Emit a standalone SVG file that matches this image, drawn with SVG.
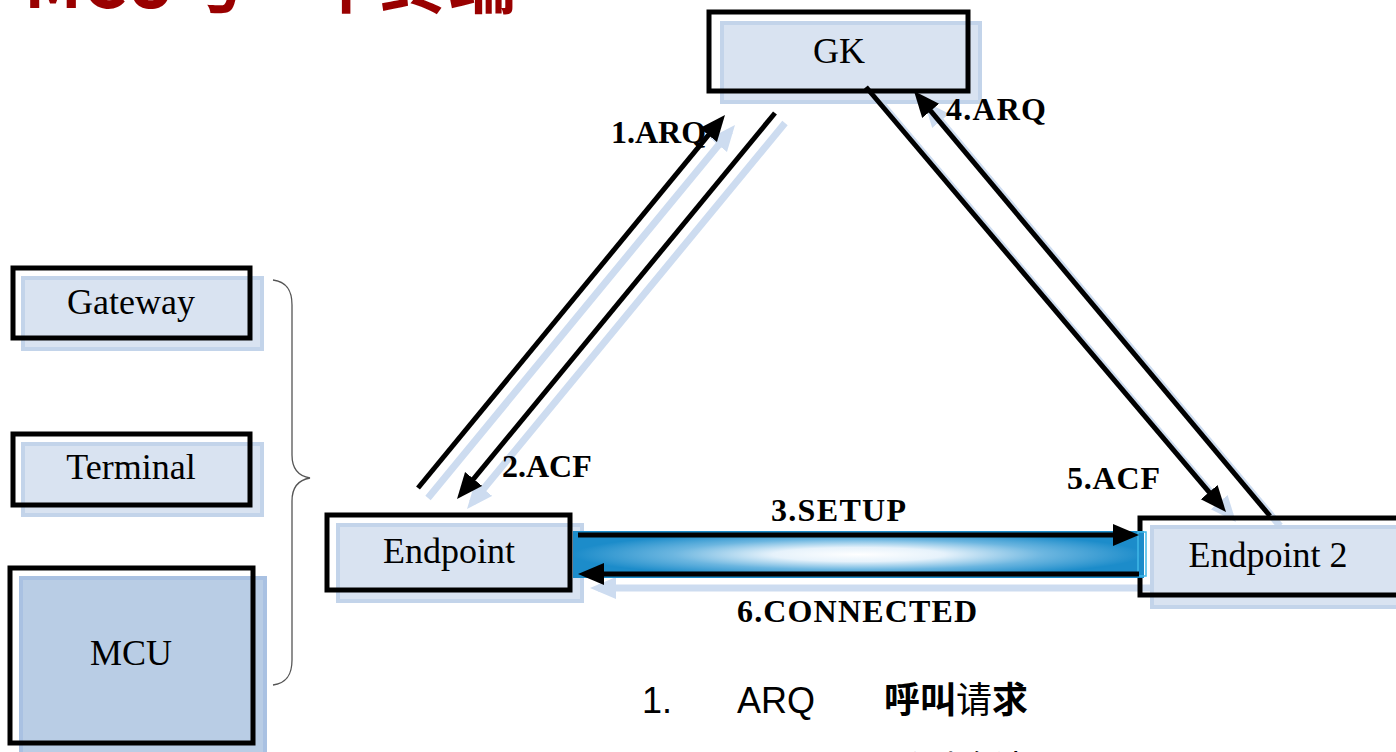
<svg xmlns="http://www.w3.org/2000/svg" width="1396" height="752" viewBox="0 0 1396 752">
<style>
.shade{fill:#d9e3f1;stroke:#c3d4ea;stroke-width:4}
.shade2{fill:#b9cde5;stroke:#a9c1e2;stroke-width:4}
.frame{fill:none;stroke:#000;stroke-width:5}
.lbl{font-family:"Liberation Serif","Times New Roman",serif;font-size:36px;fill:#000;text-anchor:middle}
.msg{font-family:"Liberation Serif","Times New Roman",serif;font-weight:bold;font-size:32px;fill:#000}
.ln{stroke:#000;stroke-width:5;fill:none}
.sh{stroke:#cddcf0;stroke-width:7;fill:none}
</style>
<defs>
<marker id="ah" markerUnits="userSpaceOnUse" markerWidth="30" markerHeight="24" refX="18" refY="11" orient="auto">
<path d="M0,0 L26,11 L0,22 z" fill="#000"/>
</marker>
<marker id="ahs" markerUnits="userSpaceOnUse" markerWidth="30" markerHeight="24" refX="18" refY="11" orient="auto">
<path d="M0,0 L26,11 L0,22 z" fill="#cddcf0"/>
</marker>
<radialGradient id="glow" cx="0.5" cy="0.5" r="0.5">
<stop offset="0" stop-color="#ffffff"/>
<stop offset="0.3" stop-color="#e6f2fb"/>
<stop offset="0.65" stop-color="#6cb6e0"/>
<stop offset="1" stop-color="#1c8cca"/>
</radialGradient>
</defs>

<g id="title">
<text x="24" y="8" font-family="'Noto Sans CJK SC',sans-serif" font-weight="bold" font-size="68" fill="#990000">MCU与一个终端</text>
</g>

<g id="connectors-shadow">
<line class="sh" x1="428" y1="498" x2="729.9" y2="131.2" marker-end="url(#ahs)"/>
<line class="sh" x1="785" y1="123" x2="472.1" y2="502.8" marker-end="url(#ahs)"/>
<line class="sh" x1="876" y1="97" x2="1230.8" y2="515.9" marker-end="url(#ahs)"/>
<line class="sh" x1="1280" y1="526" x2="929.1" y2="107.1" marker-end="url(#ahs)"/>
<line class="sh" x1="1152" y1="588" x2="598" y2="588" marker-end="url(#ahs)"/>
</g>

<g id="node-gateway">
<rect class="shade" x="23" y="278" width="239" height="71"/>
<rect class="frame" x="13" y="268" width="237" height="70"/>
<text class="lbl" x="131" y="314">Gateway</text>
</g>
<g id="node-terminal">
<rect class="shade" x="23" y="444" width="239" height="71"/>
<rect class="frame" x="13" y="434" width="237" height="71"/>
<text class="lbl" x="131" y="479">Terminal</text>
</g>
<g id="node-mcu">
<rect class="shade2" x="21" y="578" width="244" height="184"/>
<rect class="frame" x="10" y="568" width="243" height="175"/>
<text class="lbl" x="131" y="665">MCU</text>
</g>
<g id="brace">
<path d="M273,280 C288,282 292,292 292,305 L292,455 C292,468 298,476 310,478 C298,480 292,488 292,501 L292,660 C292,673 288,683 273,685" fill="none" stroke="#555" stroke-width="1.3"/>
</g>

<g id="node-gk">
<rect class="shade" x="722" y="23" width="258" height="79"/>
<rect class="frame" x="709" y="12" width="259" height="79"/>
<text class="lbl" x="839" y="63">GK</text>
</g>

<g id="node-endpoint">
<rect class="shade" x="338" y="525" width="244" height="76"/>
<rect class="frame" x="327" y="515" width="243" height="75"/>
<text class="lbl" x="449" y="563">Endpoint</text>
</g>

<g id="node-endpoint2">
<rect class="shade" x="1152" y="527" width="250" height="80"/>
<rect class="frame" x="1140" y="518" width="260" height="77"/>
<text class="lbl" x="1268" y="567" font-size="38">Endpoint 2</text>
</g>

<g id="connectors">
<rect x="573" y="531" width="571" height="47" fill="url(#glow)"/>
<rect x="1138" y="532" width="8" height="44" fill="none" stroke="#3fb8e8" stroke-width="1.5"/>
<line class="ln" x1="418" y1="488" x2="719.9" y2="121.2" marker-end="url(#ah)"/>
<line class="ln" x1="775" y1="113" x2="462.1" y2="492.8" marker-end="url(#ah)"/>
<line class="ln" x1="866" y1="87" x2="1220.8" y2="505.9" marker-end="url(#ah)"/>
<line class="ln" x1="1270" y1="516" x2="919.1" y2="97.1" marker-end="url(#ah)"/>
<line class="ln" x1="578" y1="535" x2="1131" y2="535" marker-end="url(#ah)"/>
<line class="ln" x1="1139" y1="574" x2="586" y2="574" marker-end="url(#ah)"/>
</g>

<g id="labels">
<text class="msg" x="611" y="143" font-size="28">1.ARQ</text>
<text class="msg" x="502" y="477" font-size="29">2.ACF</text>
<text class="msg" x="771" y="521" textLength="135" lengthAdjust="spacing">3.SETUP</text>
<text class="msg" x="946" y="120" font-size="33" textLength="100" lengthAdjust="spacing">4.ARQ</text>
<text class="msg" x="1067" y="489" font-size="33" textLength="93" lengthAdjust="spacing">5.ACF</text>
<text class="msg" x="737" y="622" font-size="33" textLength="240" lengthAdjust="spacing">6.CONNECTED</text>
</g>

<g id="legend" font-family="'Liberation Sans','Noto Sans CJK SC',sans-serif" font-size="36" fill="#000">
<text y="713"><tspan x="642">1.</tspan><tspan x="737">ARQ</tspan><tspan x="884" font-family="'Noto Sans CJK SC',sans-serif" font-weight="bold">呼叫</tspan><tspan font-family="'Noto Sans CJK SC',sans-serif">请</tspan><tspan font-family="'Noto Sans CJK SC',sans-serif" font-weight="bold">求</tspan></text>
<text x="884" y="782" font-family="'Noto Sans CJK SC',sans-serif">呼叫确认</text>
</g>
</svg>
